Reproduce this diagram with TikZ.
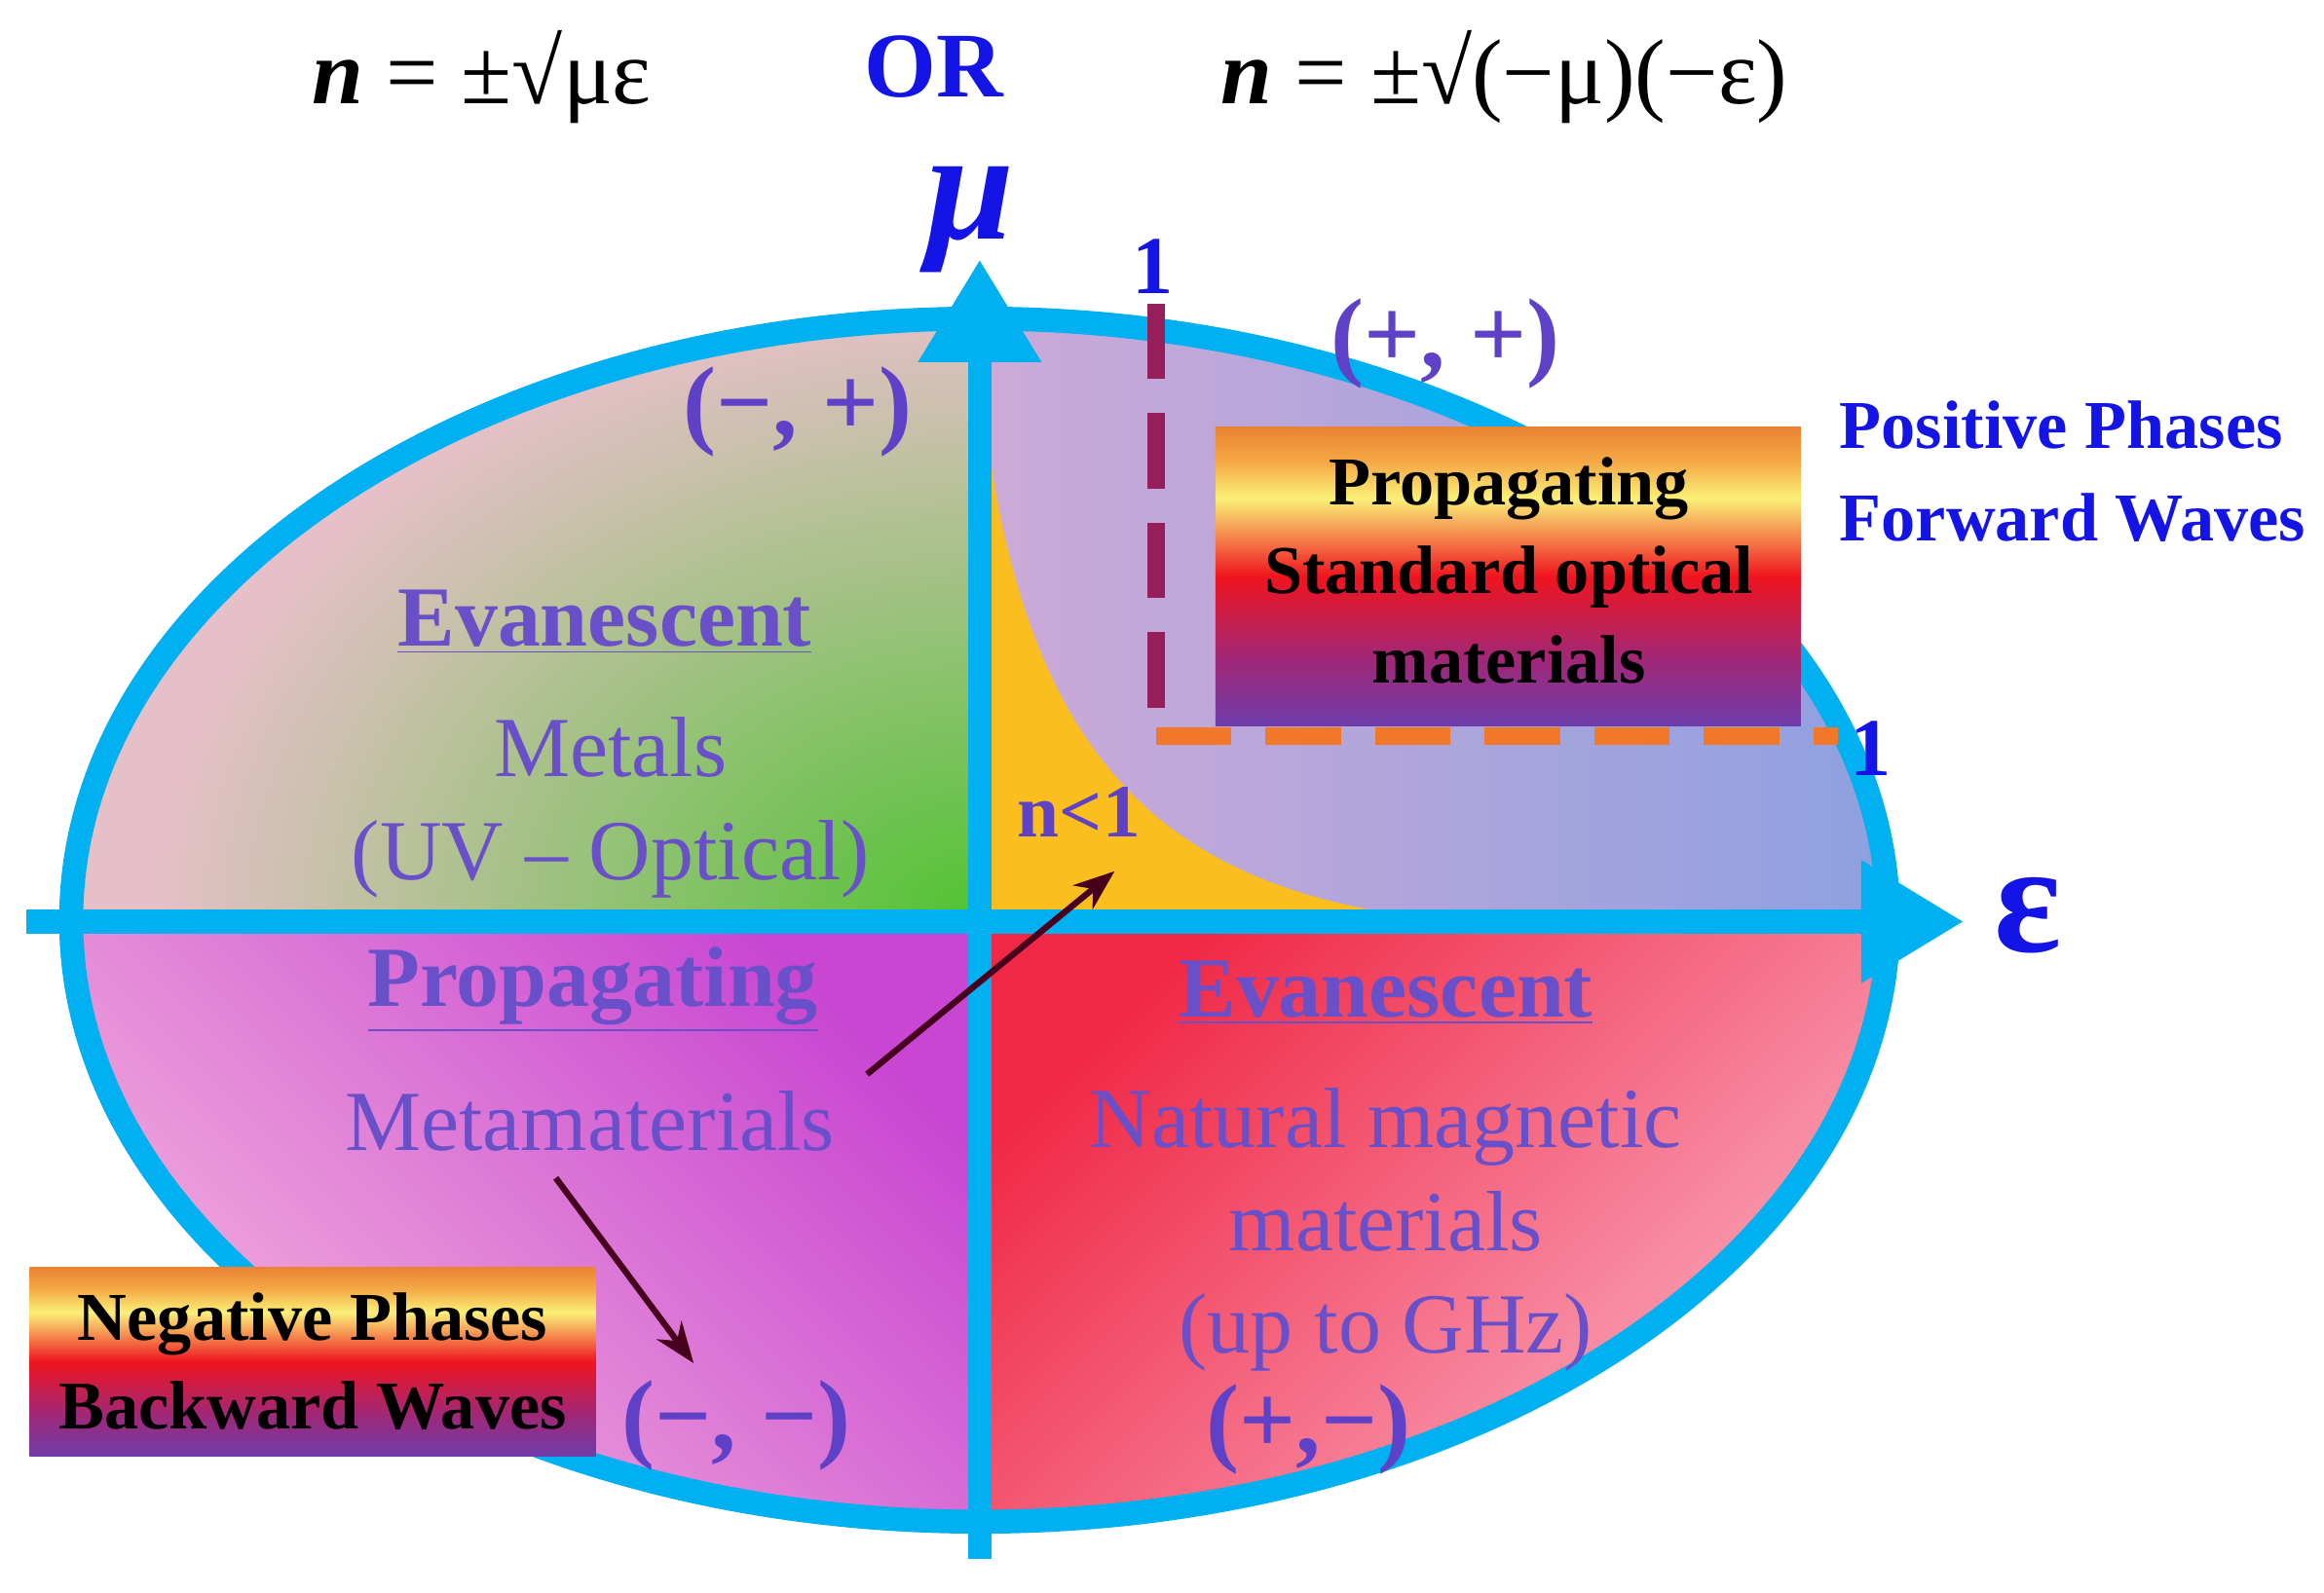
\documentclass[tikz,border=0pt]{standalone}
\usepackage{fontspec}
\setmainfont{Liberation Serif}
\usetikzlibrary{arrows.meta}
\definecolor{cy}{RGB}{0,176,240}
\definecolor{qp}{RGB}{95,65,200}
\definecolor{tp}{RGB}{105,80,200}
\definecolor{bb}{RGB}{20,20,230}
\definecolor{sA}{RGB}{110,60,170}
\definecolor{sB}{RGB}{160,40,120}
\definecolor{sC}{RGB}{240,20,30}
\definecolor{sD}{RGB}{250,240,120}
\definecolor{sE}{RGB}{245,170,70}
\definecolor{sF}{RGB}{235,130,50}
\definecolor{tlA}{RGB}{230,192,200}
\definecolor{tlB}{RGB}{80,195,50}
\definecolor{trA}{RGB}{205,170,215}
\definecolor{trB}{RGB}{140,160,225}
\definecolor{blA}{RGB}{200,70,210}
\definecolor{blB}{RGB}{245,180,220}
\definecolor{brA}{RGB}{240,40,70}
\definecolor{brB}{RGB}{250,175,195}
\definecolor{yel}{RGB}{250,190,30}
\definecolor{dr}{RGB}{150,30,90}
\definecolor{dor}{RGB}{240,120,40}
\definecolor{arr}{RGB}{70,0,30}
\pgfdeclareverticalshading{boxsh}{100bp}{
 color(0bp)=(sA);
 color(25bp)=(sA);
 color(36bp)=(sB);
 color(50bp)=(sC);
 color(63bp)=(sD);
 color(69bp)=(sE);
 color(75bp)=(sF);
 color(100bp)=(sF)}
\tikzset{
 ql/.style={text=qp,font=\fontsize{29}{32}\selectfont\bfseries},
 tl/.style={text=tp,font=\fontsize{25}{30}\selectfont,align=center},
 hl/.style={text=tp,font=\fontsize{25}{30}\selectfont\bfseries},
 bx/.style={shading=boxsh,inner sep=0pt},
 bt/.style={text=black,font=\fontsize{20}{26}\selectfont\bfseries,align=center},
 ax/.style={cy,line width=7pt,-{Triangle[length=30pt,width=34pt]}},
 ar/.style={arr,line width=1.8pt,-{Stealth[length=12pt]}},
}
\begin{document}
\begin{tikzpicture}[x=0.01522cm,y=-0.01522cm]
\useasboundingbox (0,0) rectangle (1568,1075);
\fill[white] (0,0) rectangle (1568,1075);
\begin{scope}
\clip (661,621) ellipse [x radius=613,y radius=406];
\begin{scope}
\clip (40,200) rectangle (661,621);
\fill[tlA] (40,200) rectangle (661,621);
\shade[inner color=tlB,outer color=tlA] (661,621) ellipse [x radius=560,y radius=420];
\end{scope}
\shade[left color=trA,right color=trB] (661,200) rectangle (1290,621);
\shade[top color=blA,middle color=blA!45!blB,bottom color=blB,shading angle=-45] (40,621) rectangle (661,1040);
\shade[top color=brA,bottom color=brB,shading angle=45] (661,621) rectangle (1290,1040);
\fill[yel] (661,250) .. controls (685,520) and (790,600) .. (970,621) -- (661,621) -- cycle;
\end{scope}
\draw[cy,line width=7pt] (661,621) ellipse [x radius=613,y radius=406];
\draw[dr,line width=5pt,dash pattern=on 22pt off 10pt] (780,205) -- (780,497);
\draw[dor,line width=5pt,dash pattern=on 22pt off 10pt] (780,497) -- (1240,497);
\node[text=bb,font=\fontsize{24}{26}\selectfont\bfseries] (one1) at (778,180) {1};
\node[text=bb,font=\fontsize{24}{26}\selectfont\bfseries] (one2) at (1262,505) {1};
\coordinate (xl) at (18,622); \coordinate (xr) at (1325,622);
\coordinate (yb) at (661,1052); \coordinate (yt) at (661,175);
\draw[ax] (xl) -- (xr);
\draw[ax] (yb) -- (yt);
\node[text=bb,font=\fontsize{46}{46}\selectfont\bfseries\itshape] (mu) at (655,148) {μ};
\node[text=bb,font=\fontsize{46}{46}\selectfont\bfseries] (eps) at (1368,618) {ε};
\node[font=\fontsize{27}{30}\selectfont] (f1) at (325,52) {\textbf{\textit{n}} = ±√με};
\node[text=bb,font=\fontsize{27}{30}\selectfont\bfseries] (or) at (630,45) {OR};
\node[font=\fontsize{27}{30}\selectfont] (f2) at (1015,52) {\textbf{\textit{n}} = ±√(−μ)(−ε)};
\node[ql] (pp) at (975,232) {(+, +)};
\node[ql] (mp) at (538,278) {(−, +)};
\node[ql] (mm) at (497,962) {(−, −)};
\node[ql] (pm) at (883,965) {(+,−)};
\node[hl] (ev1) at (408,420) {\underline{Evanescent}};
\node[tl] (met) at (412,545) {Metals\\(UV – Optical)};
\node[hl] (pr) at (400,668) {\underline{Propagating}};
\node[tl] (mmat) at (398,757) {Metamaterials};
\node[hl] (ev2) at (935,670) {\underline{Evanescent}};
\node[tl] (nat) at (935,830) {Natural magnetic\\materials\\(up to GHz)};
\node[text=qp,font=\fontsize{22}{24}\selectfont\bfseries] (n1) at (728,548) {n<1};
\coordinate (a1s) at (585,725); \coordinate (a1e) at (752,588);
\coordinate (a2s) at (375,795); \coordinate (a2e) at (468,920);
\draw[ar] (a1s) -- (a1e);
\draw[ar] (a2s) -- (a2e);
\shade[bx] (820,288) rectangle (1215,490);
\node[bt] (b1) at (1018,385) {Propagating\\Standard optical\\materials};
\shade[bx] (20,855) rectangle (402,983);
\node[bt] (b2) at (211,919) {Negative Phases\\Backward Waves};
\node[text=bb,font=\fontsize{20}{27}\selectfont\bfseries,align=left,anchor=west] (pos) at (1233,318) {Positive Phases\\Forward Waves};
\end{tikzpicture}
\end{document}
